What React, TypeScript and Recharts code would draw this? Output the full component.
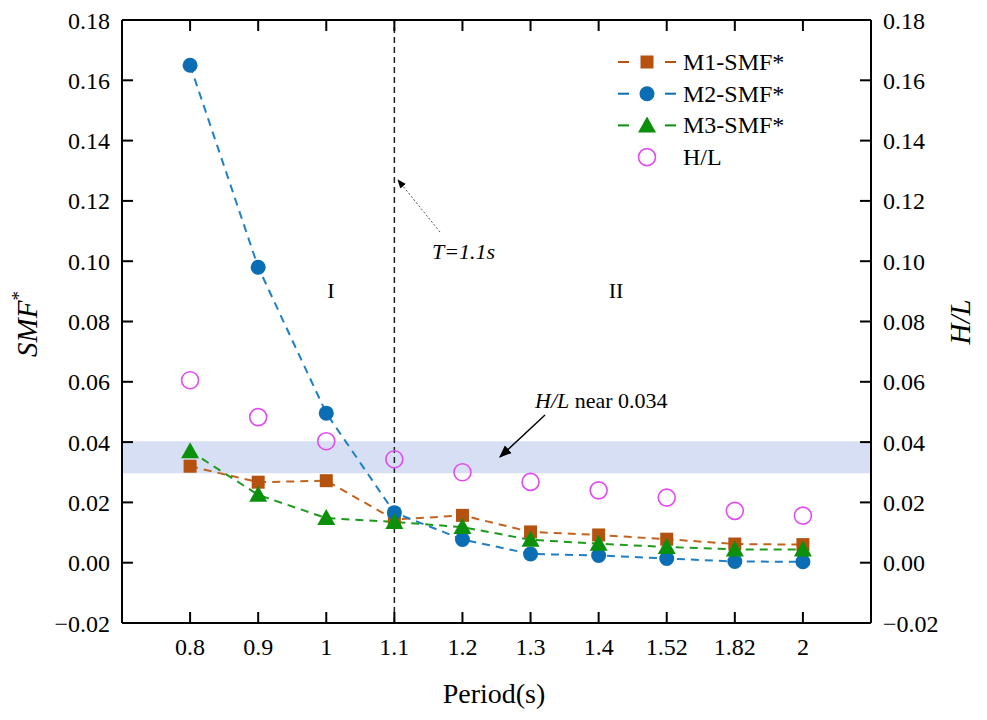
import React from "react";
import {
  ComposedChart,
  Line,
  Scatter,
  XAxis,
  YAxis,
  ReferenceArea,
  ReferenceLine,
} from "recharts";

const periods = ["0.8", "0.9", "1", "1.1", "1.2", "1.3", "1.4", "1.52", "1.82", "2"];
const m1Smf = [0.032, 0.0267, 0.0272, 0.0143, 0.0157, 0.0102, 0.0092, 0.0078, 0.0062, 0.006];
const m2Smf = [0.165, 0.098, 0.0496, 0.0166, 0.0077, 0.0029, 0.0024, 0.0014, 0.0004, 0.0003];
const m3Smf = [0.037, 0.0225, 0.0148, 0.0135, 0.0118, 0.0076, 0.0063, 0.0052, 0.0044, 0.0044];
const hOverL = [0.0605, 0.0483, 0.0403, 0.0343, 0.03, 0.0268, 0.024, 0.0216, 0.0172, 0.0156];
const yTicks = [-0.02, 0, 0.02, 0.04, 0.06, 0.08, 0.1, 0.12, 0.14, 0.16, 0.18];
const bandLow = 0.0297;
const bandHigh = 0.0403;

const data = periods.map((p, i) => ({
  idx: i,
  period: p,
  m1: m1Smf[i],
  m2: m2Smf[i],
  m3: m3Smf[i],
  hl: hOverL[i],
}));

const FONT = "Liberation Serif, Times New Roman, serif";
const BROWN = "#b5520f";
const BLUE = "#0b6db4";
const GREEN = "#0a900a";
const MAGENTA = "#e04cf2";

const fmtY = (v: number) => (v < 0 ? "\u2212" + Math.abs(v).toFixed(2) : v.toFixed(2));

const Square = (p: any) => (
  <rect key={`sq-${p.index}`} x={p.cx - 6.5} y={p.cy - 6.5} width={13} height={13} fill={BROWN} />
);
const Dot = (p: any) => <circle key={`ci-${p.index}`} cx={p.cx} cy={p.cy} r={7.5} fill={BLUE} />;
const Tri = (p: any) => (
  <polygon
    key={`tr-${p.index}`}
    points={`${p.cx},${p.cy - 9} ${p.cx - 9},${p.cy + 7} ${p.cx + 9},${p.cy + 7}`}
    fill={GREEN}
  />
);
const Ring = (p: any) => (
  <circle cx={p.cx} cy={p.cy} r={8.5} fill="none" stroke={MAGENTA} strokeWidth={1.6} />
);

const legendItems = [
  { name: "M1-SMF*", color: BROWN, mark: "square" },
  { name: "M2-SMF*", color: BLUE, mark: "circle" },
  { name: "M3-SMF*", color: GREEN, mark: "triangle" },
  { name: "H/L", color: MAGENTA, mark: "ring" },
];

const tickStyle = { fontSize: 24, fill: "#000", fontFamily: FONT };

export default function App() {
  return (
    <div
      style={{
        position: "absolute",
        left: 0,
        top: 0,
        width: 987,
        height: 720,
        background: "#fff",
        fontFamily: FONT,
      }}
    >
      <ComposedChart
        width={987}
        height={720}
        data={data}
        margin={{ top: 0, right: 0, bottom: 0, left: 0 }}
        style={{ fontFamily: FONT }}
      >
        <XAxis
          xAxisId="bottom"
          dataKey="idx"
          type="number"
          domain={[-1, 10]}
          ticks={[0, 1, 2, 3, 4, 5, 6, 7, 8, 9]}
          tickFormatter={(v: number) => periods[v] ?? ""}
          height={97}
          tickSize={-11}
          tickMargin={26}
          stroke="#000"
          strokeWidth={2}
          tick={tickStyle}
        />
        <XAxis
          xAxisId="top"
          orientation="top"
          dataKey="idx"
          type="number"
          domain={[-1, 10]}
          ticks={[0, 1, 2, 3, 4, 5, 6, 7, 8, 9]}
          tickFormatter={() => ""}
          height={20}
          tickSize={-11}
          stroke="#000"
          strokeWidth={2}
        />
        <YAxis
          yAxisId="left"
          domain={[-0.02, 0.18]}
          ticks={yTicks}
          tickFormatter={fmtY}
          width={122}
          tickSize={-11}
          tickMargin={23}
          stroke="#000"
          strokeWidth={2}
          tick={tickStyle}
          interval={0}
        />
        <YAxis
          yAxisId="right"
          orientation="right"
          domain={[-0.02, 0.18]}
          ticks={yTicks}
          tickFormatter={fmtY}
          width={116}
          tickSize={-11}
          tickMargin={23}
          stroke="#000"
          strokeWidth={2}
          tick={tickStyle}
          interval={0}
        />
        <ReferenceArea
          xAxisId="bottom"
          yAxisId="left"
          x1={-1}
          x2={10}
          y1={bandLow}
          y2={bandHigh}
          fill="#d7dff4"
          fillOpacity={1}
          stroke="none"
        />
        <ReferenceLine
          xAxisId="bottom"
          yAxisId="left"
          x={3}
          stroke="#222"
          strokeWidth={1.5}
          strokeDasharray="6 4"
        />
        <Scatter
          xAxisId="bottom"
          yAxisId="right"
          dataKey="hl"
          shape={Ring}
          isAnimationActive={false}
        />
        <Line
          xAxisId="bottom"
          yAxisId="left"
          dataKey="m1"
          stroke="#c2631f"
          strokeWidth={2}
          strokeDasharray="8 6"
          dot={Square}
          activeDot={false}
          isAnimationActive={false}
        />
        <Line
          xAxisId="bottom"
          yAxisId="left"
          dataKey="m2"
          stroke="#1f7fc4"
          strokeWidth={2}
          strokeDasharray="8 6"
          dot={Dot}
          activeDot={false}
          isAnimationActive={false}
        />
        <Line
          xAxisId="bottom"
          yAxisId="left"
          dataKey="m3"
          stroke="#1b9a1b"
          strokeWidth={2}
          strokeDasharray="8 6"
          dot={Tri}
          activeDot={false}
          isAnimationActive={false}
        />
      </ComposedChart>

      <svg
        width={987}
        height={720}
        style={{ position: "absolute", left: 0, top: 0, pointerEvents: "none", fontFamily: FONT }}
      >
        <defs>
          <marker id="head" viewBox="0 0 10 10" refX="9" refY="5" markerWidth="9" markerHeight="9" orient="auto">
            <path d="M0,1 L10,5 L0,9 z" fill="#000" />
          </marker>
        </defs>

        {/* legend */}
        {legendItems.map((it, i) => {
          const y = 62 + i * 31.7;
          return (
            <g key={it.name}>
              {it.mark !== "ring" && (
                <>
                  <line x1={618} x2={629} y1={y} y2={y} stroke={it.color} strokeWidth={2} />
                  <line x1={665} x2={676} y1={y} y2={y} stroke={it.color} strokeWidth={2} />
                </>
              )}
              {it.mark === "square" && <rect x={640.5} y={y - 6.5} width={13} height={13} fill={it.color} />}
              {it.mark === "circle" && <circle cx={647} cy={y} r={7.5} fill={it.color} />}
              {it.mark === "triangle" && (
                <polygon points={`647,${y - 9} 638,${y + 7} 656,${y + 7}`} fill={it.color} />
              )}
              {it.mark === "ring" && (
                <circle cx={647} cy={y} r={8.5} fill="none" stroke={it.color} strokeWidth={1.6} />
              )}
              <text x={683} y={y + 8} fontSize={24} fill="#000">
                {it.name}
              </text>
            </g>
          );
        })}

        {/* region labels */}
        <text x={331} y={298} fontSize={22} textAnchor="middle" fill="#000">I</text>
        <text x={616} y={298} fontSize={22} textAnchor="middle" fill="#000">II</text>

        {/* T=1.1s annotation */}
        <line x1={440} y1={232} x2={398} y2={180} stroke="#555" strokeWidth={1} strokeDasharray="2 2" markerEnd="url(#head)" />
        <text x={432} y={259} fontSize={22} fontStyle="italic" fill="#000">T=1.1s</text>

        {/* H/L band annotation */}
        <line x1={545} y1={415} x2={500} y2={457} stroke="#000" strokeWidth={1.4} markerEnd="url(#head)" />
        <text x={535} y={408} fontSize={22} fill="#000">
          <tspan fontStyle="italic">H/L</tspan> near 0.034
        </text>

        {/* axis titles */}
        <text transform="translate(37,324) rotate(-90)" fontSize={29} textAnchor="middle" fill="#000">
          <tspan fontStyle="italic">SMF</tspan>
          <tspan fontSize={19} dy={-12}>*</tspan>
        </text>
        <text transform="translate(970,322) rotate(-90)" fontSize={29} textAnchor="middle" fontStyle="italic" fill="#000">
          H/L
        </text>
        <text x={494} y={703} fontSize={28} textAnchor="middle" fill="#000">Period(s)</text>
      </svg>
    </div>
  );
}
